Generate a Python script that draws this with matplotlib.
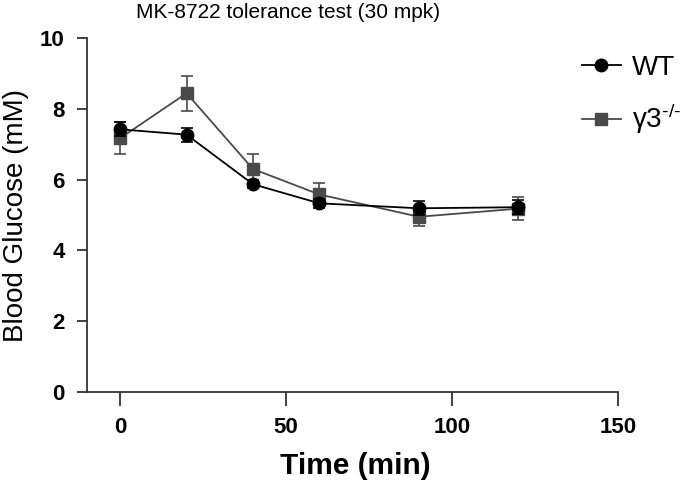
import matplotlib
matplotlib.use("Agg")
import matplotlib.pyplot as plt

plt.rcParams['font.family'] = ['Liberation Sans', 'DejaVu Sans']
plt.rcParams['mathtext.fontset'] = 'custom'
plt.rcParams['mathtext.rm'] = 'Liberation Sans'
plt.rcParams['mathtext.default'] = 'regular'

time = [0, 20, 40, 60, 90, 120]
wt_mean = [7.42, 7.27, 5.87, 5.33, 5.19, 5.22]
wt_err = [0.20, 0.20, 0.12, 0.12, 0.20, 0.20]
ko_mean = [7.17, 8.44, 6.30, 5.58, 4.95, 5.18]
ko_err = [0.45, 0.50, 0.42, 0.31, 0.27, 0.33]
labels = ['WT', r'γ3$^{\text{-/-}}$']
xticks = [0, 50, 100, 150]
yticks = [0, 2, 4, 6, 8, 10]

fig = plt.figure(figsize=(6.89, 4.84), dpi=100)
ax = fig.add_axes([87/689, 1-392/484, (618-87)/689, (392-38)/484])

gray = '#4a4a4a'
c1 = ax.errorbar(time, wt_mean, yerr=wt_err, color='black', marker='o', markersize=9,
                 lw=1.3, capsize=4, capthick=1.2, elinewidth=1.2, zorder=4)
c2 = ax.errorbar(time, ko_mean, yerr=ko_err, color=gray, marker='s', markersize=8,
                 lw=1.3, capsize=4, capthick=1.2, elinewidth=1.2, zorder=3)

ax.set_xlim(-10, 150)
ax.set_ylim(0, 10)
ax.set_xticks(xticks)
ax.set_yticks(yticks)
for s in ['top', 'right']:
    ax.spines[s].set_visible(False)
for s in ['left', 'bottom']:
    ax.spines[s].set_color('#333333')
    ax.spines[s].set_linewidth(1.3)
ax.tick_params(axis='x', length=10, width=1.3, color='#333333', pad=8, labelsize=16)
ax.tick_params(axis='y', length=7, width=1.3, color='#333333', pad=9, labelsize=16)
for t in ax.get_xticklabels() + ax.get_yticklabels():
    t.set_fontweight('bold')

fig.text(288/689, 1-13/484, 'MK-8722 tolerance test (30 mpk)', ha='center', va='center', fontsize=15)
fig.text(16/689, 1-215/484, 'Blood Glucose (mM)', rotation=90, ha='center', va='center', fontsize=20)
fig.text(355/689, 1-466/484, 'Time (min)', ha='center', va='center', fontsize=21.5, fontweight='bold')

leg = ax.legend([c1[0], c2[0]], labels, loc='upper left', bbox_to_anchor=(582/689, 1-55/484),
                bbox_transform=fig.transFigure,
                frameon=False, fontsize=20, handlelength=1.4, handletextpad=0.4,
                labelspacing=0.75, borderaxespad=0, borderpad=0)

fig.savefig('out.png', dpi=100)
